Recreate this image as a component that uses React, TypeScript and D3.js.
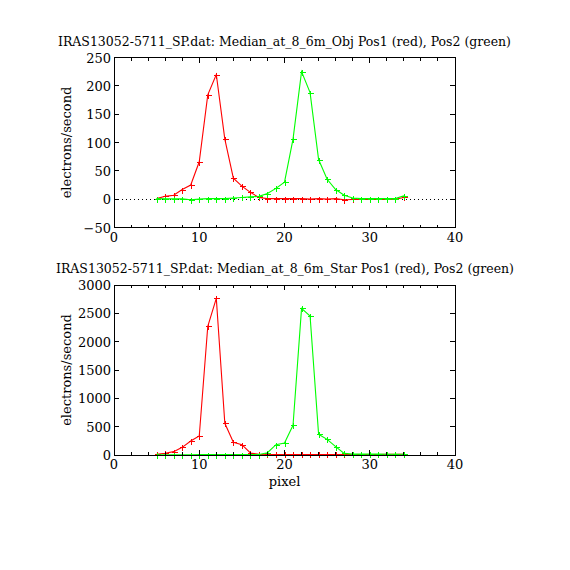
import React from "react";
import * as d3 from "d3";

const pixels = [5, 6, 7, 8, 9, 10, 11, 12, 13, 14, 15, 16, 17, 18, 19, 20, 21, 22, 23, 24, 25, 26, 27, 28, 29, 30, 31, 32, 33, 34];

const objPos1 = [1, 5, 7, 17, 25, 66, 184, 220, 106, 37, 23, 12, 3, 1, 1, 1, 1, 1, 0, 1, 0, 1, -1, -0.5, -0.5, -0.5, -0.5, -0.5, 0, 3];
const objPos2 = [1, 0.5, 0.5, 0.5, -1, 0, 1, 1, 1, 2, 3, 4, 5, 10, 19, 30, 106, 225, 188, 70, 35, 17, 7, 2, 1, 1, 1, 1, 1, 6];

const starPos1 = [12, 30, 59, 135, 247, 335, 2271, 2765, 559, 224, 182, 35, 14, 10, 10, 10, 10, 10, 10, 10, 10, 10, 10, 10, 10, 10, 10, 12, 12, 12];
const starPos2 = [5, 5, 5, 5, 5, 8, 8, 8, 8, 8, 8, 8, 8, 41, 182, 212, 524, 2588, 2453, 365, 276, 147, 29, 15, 15, 15, 15, 12, 12, 12];

const xTicks = [0, 10, 20, 30, 40];
const xMinor = [2, 4, 6, 8, 12, 14, 16, 18, 22, 24, 26, 28, 32, 34, 36, 38];
const topYTicks = [-50, 0, 50, 100, 150, 200, 250];
const botYTicks = [0, 500, 1000, 1500, 2000, 2500, 3000];

const topTitle = "IRAS13052-5711_SP.dat: Median_at_8_6m_Obj Pos1 (red), Pos2 (green)";
const botTitle = "IRAS13052-5711_SP.dat: Median_at_8_6m_Star Pos1 (red), Pos2 (green)";

const FONT = "DejaVu Serif";
const RED = "#ff0000";
const GREEN = "#00ff00";

type PanelProps = {
  top: number;
  bottom: number;
  yDomain: [number, number];
  yTicks: number[];
  pos1: number[];
  pos2: number[];
  title: string;
  titleY: number;
  titleX0: number;
  titleX1: number;
  zeroLine: boolean;
  xLabel?: string;
};

function Panel(p: PanelProps) {
  const x = d3.scaleLinear().domain([0, 40]).range([114, 455]);
  const y = d3.scaleLinear().domain(p.yDomain).range([p.bottom, p.top]);
  const line = d3
    .line<number>()
    .x((_, i) => x(pixels[i]))
    .y((d) => y(d));
  const plus = (vals: number[], color: string) =>
    vals.map((v, i) => {
      const cx = Math.round(x(pixels[i])) + 0.5;
      const cy = Math.round(y(v)) + 0.5;
      return (
        <path
          key={i}
          d={`M${cx - 3},${cy}H${cx + 3}M${cx},${cy - 3}V${cy + 3}`}
          stroke={color}
          strokeWidth={1}
          fill="none"
          shapeRendering="crispEdges"
        />
      );
    });
  const [x0, x1] = x.range();
  return (
    <g>
      <text
        x={(p.titleX0 + p.titleX1) / 2}
        y={p.titleY}
        textAnchor="middle"
        fontFamily={FONT}
        fontSize={12}
        textLength={p.titleX1 - p.titleX0}
        lengthAdjust="spacingAndGlyphs"
      >
        {p.title}
      </text>
      {p.zeroLine && (
        <line x1={x0} x2={x1} y1={Math.round(y(0)) + 0.5} y2={Math.round(y(0)) + 0.5} stroke="#000" strokeDasharray="1,3" shapeRendering="crispEdges" />
      )}
      <path d={line(p.pos1) || ""} stroke={RED} fill="none" strokeWidth={1.1} />
      {plus(p.pos1, RED)}
      <path d={line(p.pos2) || ""} stroke={GREEN} fill="none" strokeWidth={1.1} />
      {plus(p.pos2, GREEN)}
      <g shapeRendering="crispEdges">
        <rect x={x0} y={p.top} width={x1 - x0} height={p.bottom - p.top} fill="none" stroke="#000" strokeWidth={1} />
        {xTicks.map((t) => (
          <g key={"xt" + t}>
            <line x1={x(t)} x2={x(t)} y1={p.bottom} y2={p.bottom - 5} stroke="#000" />
            <line x1={x(t)} x2={x(t)} y1={p.top} y2={p.top + 5} stroke="#000" />
          </g>
        ))}
        {xMinor.map((t) => (
          <g key={"xm" + t}>
            <line x1={x(t)} x2={x(t)} y1={p.bottom} y2={p.bottom - 3} stroke="#000" />
            <line x1={x(t)} x2={x(t)} y1={p.top} y2={p.top + 3} stroke="#000" />
          </g>
        ))}
        {p.yTicks.map((t) => (
          <g key={"yt" + t}>
            <line x1={x0} x2={x0 + 5} y1={y(t)} y2={y(t)} stroke="#000" />
            <line x1={x1} x2={x1 - 5} y1={y(t)} y2={y(t)} stroke="#000" />
          </g>
        ))}
      </g>
      {xTicks.map((t) => (
        <text key={"xl" + t} x={x(t)} y={p.bottom + 14} textAnchor="middle" fontFamily={FONT} fontSize={13}>
          {t}
        </text>
      ))}
      {p.yTicks.map((t) => (
        <text key={"yl" + t} x={x0 - 3} y={y(t) + 5} textAnchor="end" fontFamily={FONT} fontSize={13}>
          {t < 0 ? "\u2212" + Math.abs(t) : t}
        </text>
      ))}
      <text
        transform={`translate(71,${(p.top + p.bottom) / 2}) rotate(-90)`}
        textAnchor="middle"
        fontFamily={FONT}
        fontSize={13}
      >
        electrons/second
      </text>
      {p.xLabel && (
        <text x={(x0 + x1) / 2} y={p.bottom + 31} textAnchor="middle" fontFamily={FONT} fontSize={13}>
          {p.xLabel}
        </text>
      )}
    </g>
  );
}

export default function App() {
  return (
    <svg
      width={570}
      height={570}
      style={{ position: "absolute", left: 0, top: 0, background: "#fff" }}
    >
      <rect width={570} height={570} fill="#fff" />
      <Panel
        top={57.5}
        bottom={227.5}
        yDomain={[-50, 250]}
        yTicks={topYTicks}
        pos1={objPos1}
        pos2={objPos2}
        title={topTitle}
        titleY={46}
        titleX0={58}
        titleX1={511}
        zeroLine={true}
      />
      <Panel
        top={285}
        bottom={455}
        yDomain={[0, 3000]}
        yTicks={botYTicks}
        pos1={starPos1}
        pos2={starPos2}
        title={botTitle}
        titleY={273}
        titleX0={56}
        titleX1={514}
        zeroLine={false}
        xLabel="pixel"
      />
    </svg>
  );
}
